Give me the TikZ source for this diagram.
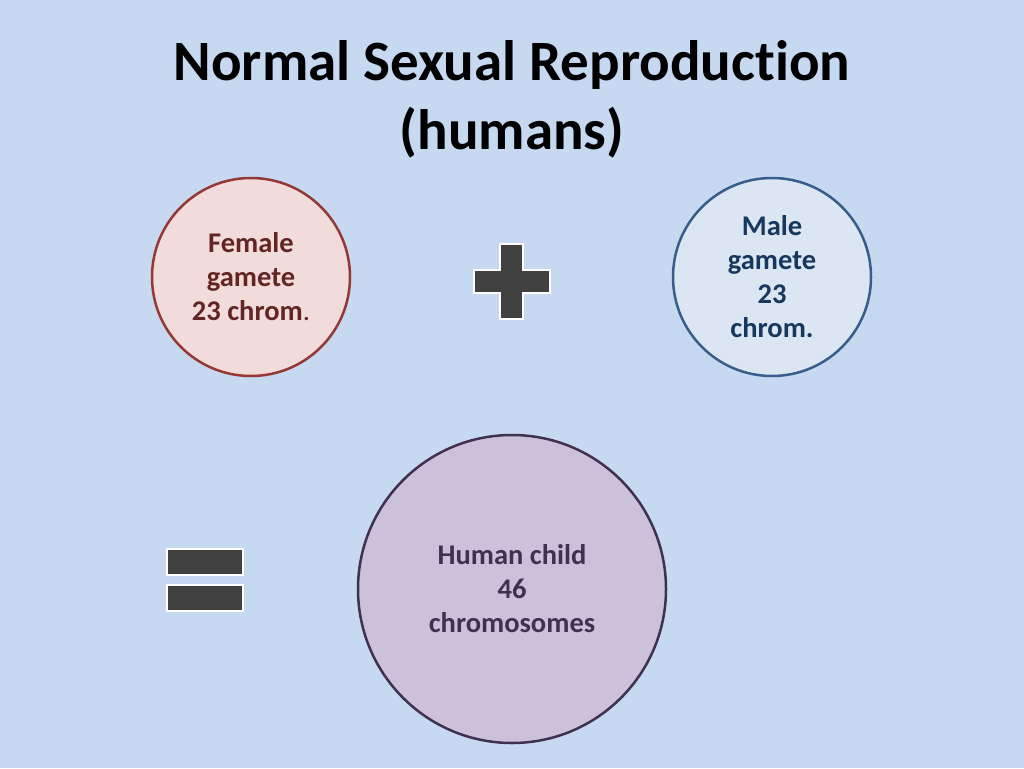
\documentclass[tikz,border=0pt]{standalone}
\usepackage{fontspec}
\setmainfont[Ligatures=CommonOff]{Carlito}
\definecolor{slidebg}{HTML}{C6D9F1}
\definecolor{femfill}{HTML}{F2DCDB}
\definecolor{femline}{HTML}{953735}
\definecolor{femtext}{HTML}{632523}
\definecolor{malfill}{HTML}{DCE6F2}
\definecolor{malline}{HTML}{385D8A}
\definecolor{maltext}{HTML}{17375E}
\definecolor{kidfill}{HTML}{CCC1DA}
\definecolor{kidline}{HTML}{403152}
\definecolor{signgray}{HTML}{404040}
\tikzset{
  cell/.style={circle,line width=2.5pt,inner sep=0pt,align=center,
    font=\fontsize{28.5}{34}\selectfont\bfseries},
  sign/.style={fill=signgray,draw=white,line width=2.5pt}
}

\begin{document}
\begin{tikzpicture}[x=1pt,y=-1pt]
  \fill[slidebg] (0,0) rectangle (1024,768);
  \useasboundingbox (0,0) rectangle (1024,768);
  \node[align=center,font=\fontsize{57}{69}\selectfont\bfseries] (title)
    at (512,99) {Normal Sexual Reproduction\\(humans)};
  \node[cell,minimum size=198pt,fill=femfill,draw=femline,text=femtext] (female)
    at (251,277) {Female\\gamete\\23 chrom\textmd{.}};
  \node[cell,minimum size=198pt,fill=malfill,draw=malline,text=maltext] (male)
    at (772,277) {Male\\gamete\\23\\chrom.};
  \node[cell,minimum size=308pt,fill=kidfill,draw=kidline,text=kidline] (child)
    at (512,589) {Human child\\46\\chromosomes};
  \draw[sign]
    (500,244) -- (523,244) -- (523,270) -- (550,270) -- (550,293) -- (523,293)
    -- (523,319) -- (500,319) -- (500,293) -- (474,293) -- (474,270) -- (500,270)
    -- cycle;
  \draw[sign] (167,549) rectangle (243,575);
  \draw[sign] (167,585) rectangle (243,611);
\end{tikzpicture}
\end{document}
